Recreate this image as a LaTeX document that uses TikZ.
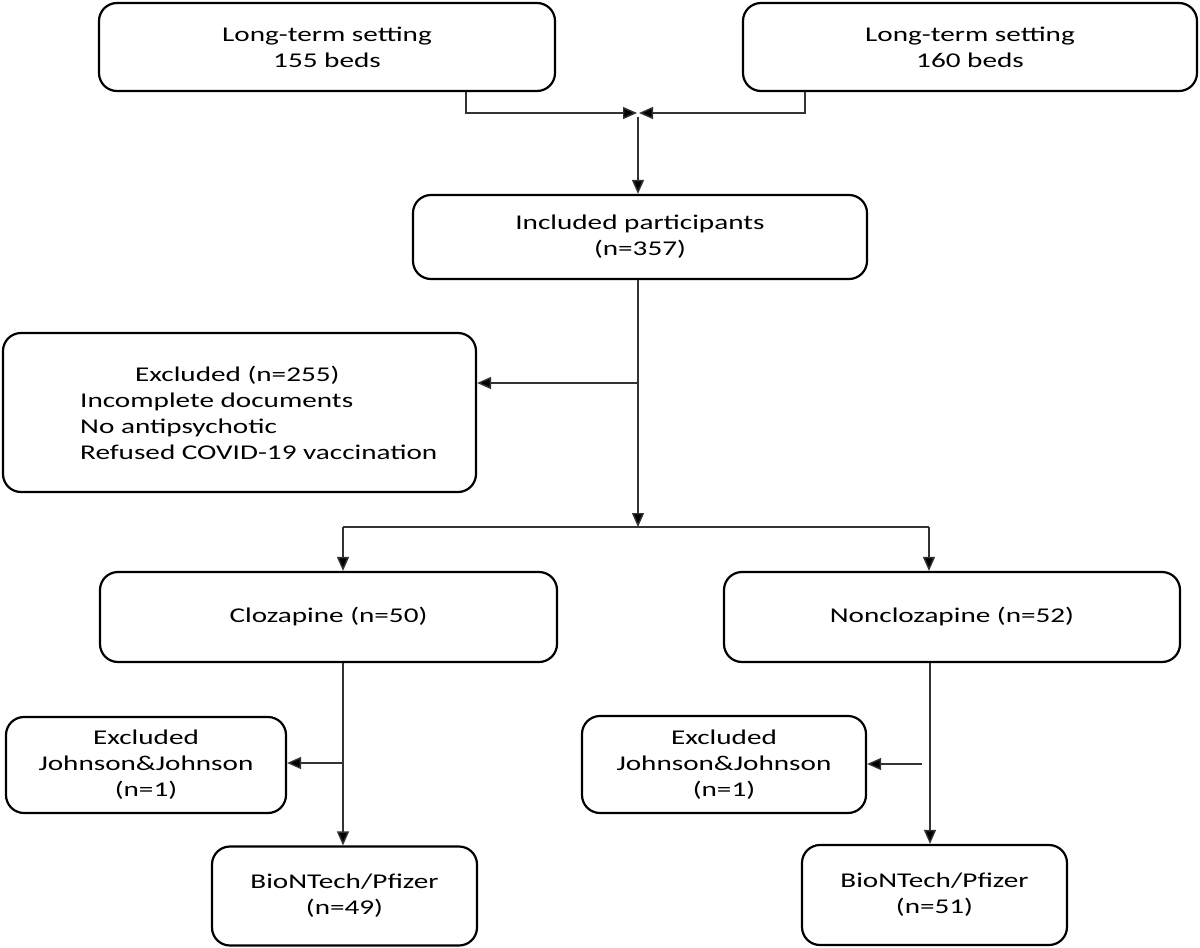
\documentclass[tikz,border=0pt]{standalone}
\usepackage{fontspec}
\setmainfont{Carlito}[FakeStretch=1.39]
\usetikzlibrary{arrows.meta}
\begin{document}
\begin{tikzpicture}[x=1pt,y=-1pt,
  box/.style={draw=black, line width=2.2pt, rounded corners=18pt, align=center, inner sep=0pt,
    font=\fontsize{21}{26}\selectfont},
  txt/.style={inner sep=0pt, font=\fontsize{21}{26}\selectfont},
  conn/.style={draw=black!80, line width=1.4pt},
  arr/.style={conn, -{Triangle[length=14pt,width=12pt,fill=black]}}]
\useasboundingbox (0,0) rectangle (1200,948);
% boxes
\node[box, minimum width=456pt, minimum height=88pt] (A) at (327,47) {Long-term setting\\155 beds};
\node[box, minimum width=454pt, minimum height=88pt] (B) at (970,47) {Long-term setting\\160 beds};
\node[box, minimum width=454pt, minimum height=84pt] (C) at (640,237) {Included participants\\(n=357)};
\node[box, minimum width=473pt, minimum height=159pt] (D) at (239.5,412.5) {};
\node[txt, anchor=west, align=left] (Dt) at (80,413) {\hspace*{55pt}Excluded (n=255)\\Incomplete documents\\No antipsychotic\\Refused COVID-19 vaccination};
\node[box, minimum width=457pt, minimum height=90pt] (E) at (328.5,617) {Clozapine (n=50)};
\node[box, minimum width=456pt, minimum height=90pt] (F) at (952,617) {Nonclozapine (n=52)};
\node[box, minimum width=280pt, minimum height=96pt] (G) at (146,765) {Excluded\\Johnson\&Johnson\\(n=1)};
\node[box, minimum width=265pt, minimum height=99pt] (H) at (344.5,896) {BioNTech/Pfizer\\(n=49)};
\node[box, minimum width=284pt, minimum height=97pt] (I) at (724,764.5) {Excluded\\Johnson\&Johnson\\(n=1)};
\node[box, minimum width=265pt, minimum height=100pt] (J) at (934.5,895) {BioNTech/Pfizer\\(n=51)};
% helper coordinates
\coordinate (aL) at (466,113);
\coordinate (aR) at (805,113);
\coordinate (mL) at (637,113);
\coordinate (mR) at (639,113);
\coordinate (mD) at (638,117);
\coordinate (cx) at (638,383);
\coordinate (sp) at (638,527);
\coordinate (sL) at (343,527);
\coordinate (sR) at (929,527);
\coordinate (gx) at (343,763);
\coordinate (ix) at (922,764);
\coordinate (lx) at (343,0);
\coordinate (rx) at (930,0);
% connectors
\draw[arr] (A.south -| aL) -- (aL) -- (mL);
\draw[arr] (B.south -| aR) -- (aR) -- (mR);
\draw[arr] (mD) -- (C.north -| mD);
\draw[arr] (C.south -| sp) -- (sp);
\draw[arr] (cx) -- (D.east |- cx);
\draw[conn] (sL) -- (sR);
\draw[arr] (sL) -- (E.north -| sL);
\draw[arr] (sR) -- (F.north -| sR);
\draw[arr] (E.south -| lx) -- (H.north -| lx);
\draw[arr] (gx) -- (G.east |- gx);
\draw[arr] (F.south -| rx) -- (J.north -| rx);
\draw[arr] (ix) -- (I.east |- ix);
\end{tikzpicture}
\end{document}
